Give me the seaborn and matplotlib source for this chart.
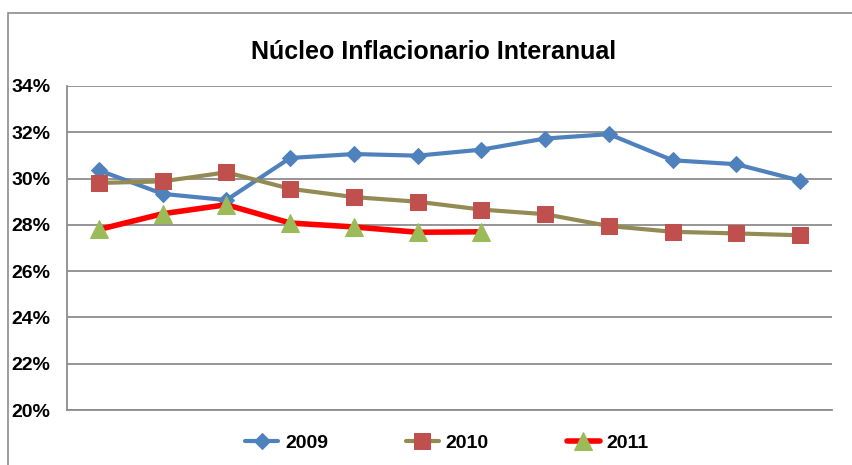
import numpy as np
import pandas as pd
import matplotlib
matplotlib.use("Agg")
import matplotlib.pyplot as plt
import seaborn as sns
from matplotlib.patches import Rectangle

# Data
months = list(range(12))
y2009 = [30.36, 29.34, 29.07, 30.89, 31.06, 30.99, 31.25, 31.73, 31.92, 30.79, 30.62, 29.91]
y2010 = [29.81, 29.88, 30.27, 29.56, 29.20, 29.00, 28.66, 28.46, 27.95, 27.70, 27.63, 27.55]
y2011 = [27.80, 28.48, 28.87, 28.08, 27.91, 27.68, 27.70]
y_ticks = [20, 22, 24, 26, 28, 30, 32, 34]
y_tick_labels = ["20%", "22%", "24%", "26%", "28%", "30%", "32%", "34%"]
title = "Núcleo Inflacionario Interanual"

sns.set_style("white")
plt.rcParams['font.family'] = ['Liberation Sans Narrow', 'DejaVu Sans Condensed',
                               'Liberation Sans', 'DejaVu Sans']
plt.rcParams['text.color'] = 'black'
plt.rcParams['ytick.labelcolor'] = 'black'

fig = plt.figure(figsize=(8.52, 4.65), dpi=100)
ax = fig.add_axes([67 / 852, 55 / 465, 765 / 852, 324 / 465])

# outer chart frame
fig.patches.append(Rectangle((8 / 852, -0.2), 1.2, 1.2 - 13 / 465,
                             transform=fig.transFigure, fill=False,
                             edgecolor="#8c8c8c", linewidth=1.2, zorder=0))

df09 = pd.DataFrame({"x": months, "y": y2009})
df10 = pd.DataFrame({"x": months, "y": y2010})
df11 = pd.DataFrame({"x": months[:len(y2011)], "y": y2011})

sns.lineplot(data=df09, x="x", y="y", ax=ax, color="#4F81BD", linewidth=3,
             marker="D", markersize=8, markerfacecolor="#4F81BD",
             markeredgecolor="#4F81BD", label="2009", zorder=3)
sns.lineplot(data=df10, x="x", y="y", ax=ax, color="#948A54", linewidth=3,
             marker="s", markersize=11, markerfacecolor="#C0504D",
             markeredgecolor="#C0504D", label="2010", zorder=4)
sns.lineplot(data=df11, x="x", y="y", ax=ax, color="#FF0000", linewidth=4,
             marker="^", markersize=13, markerfacecolor="#9BBB59",
             markeredgecolor="#9BBB59", label="2011", zorder=5)

ax.set_xlim(-0.5, 11.5)
ax.set_ylim(20, 34)
ax.set_yticks(y_ticks)
ax.set_yticklabels(y_tick_labels, fontsize=14, fontweight="bold", color="black")
ax.set_xticks([])
ax.set_xlabel("")
ax.set_ylabel("")
ax.grid(axis="y", color="#8c8c8c", linewidth=1.3)
ax.set_axisbelow(True)
for s in ["top", "right"]:
    ax.spines[s].set_visible(False)
for s in ["left", "bottom"]:
    ax.spines[s].set_color("#8c8c8c")
    ax.spines[s].set_linewidth(1.3)
ax.tick_params(axis="y", length=5, color="#8c8c8c", width=1.3, pad=7)

fig.text(434 / 852, 1 - 52 / 465, title, ha="center", va="center",
         fontsize=18, fontweight="bold", color="black")

handles, labels = ax.get_legend_handles_labels()
ax.legend_.remove()
fig.legend(handles, labels, loc="center", bbox_to_anchor=(447 / 852, 1 - 443 / 465),
           ncol=3, frameon=False, handlelength=1.7, columnspacing=4.0,
           prop={"size": 14, "weight": "bold"}, handletextpad=0.35,
           labelcolor="black")

fig.savefig("out.png", dpi=100)
